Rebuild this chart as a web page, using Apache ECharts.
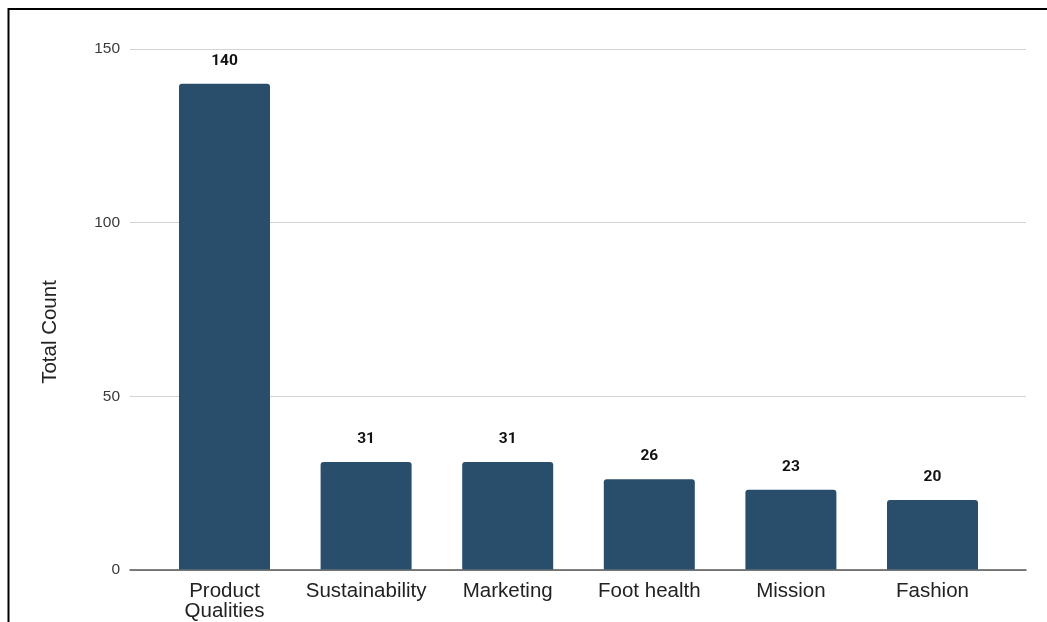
<!DOCTYPE html>
<html>
<head>
<meta charset="utf-8">
<script src="https://cdn.jsdelivr.net/npm/echarts@6/dist/echarts.min.js"></script>
<style>
  html, body { margin: 0; padding: 0; background: #fff; }
  #chart { width: 1047px; height: 622px; }
</style>
</head>
<body>
<div id="chart"></div>
<script>
// Theme categories and their total counts
const categories = ['Product\nQualities', 'Sustainability', 'Marketing', 'Foot health', 'Mission', 'Fashion'];
const counts = [140, 31, 31, 26, 23, 20];
const yTicks = { min: 0, max: 150, interval: 50 };

const chart = echarts.init(document.getElementById('chart'));

chart.setOption({
  animation: false,
  backgroundColor: '#ffffff',
  grid: [
    // wide grid: value gridlines and baseline span past the outer bars
    { left: 130, right: 21, top: 49, bottom: 52 },
    // inner grid: holds the bars
    { left: 153.7, right: 43.7, top: 49, bottom: 52 }
  ],
  xAxis: [
    {
      gridIndex: 0, type: 'value', min: 0, max: 1,
      axisLine: { show: true, lineStyle: { color: '#555', width: 1.5 } },
      axisTick: { show: false }, axisLabel: { show: false }, splitLine: { show: false }
    },
    {
      gridIndex: 1, type: 'category', data: categories,
      axisLine: { show: false }, axisTick: { show: false },
      axisLabel: {
        color: '#222', fontSize: 20.5, fontFamily: 'Liberation Sans, Arial, sans-serif',
        margin: 12, lineHeight: 20, interval: 0
      }
    }
  ],
  yAxis: [
    {
      gridIndex: 0, type: 'value', min: yTicks.min, max: yTicks.max, interval: yTicks.interval,
      axisLine: { show: false }, axisTick: { show: false },
      axisLabel: { color: '#3a3a3a', fontSize: 15.5, fontFamily: 'Liberation Sans, Arial, sans-serif', margin: 10 },
      splitLine: { lineStyle: { color: '#d3d3d3', width: 1 } }
    },
    {
      gridIndex: 1, type: 'value', min: yTicks.min, max: yTicks.max, interval: yTicks.interval,
      show: false, splitLine: { show: false }
    }
  ],
  graphic: [
    {
      type: 'text', x: 50, y: 332, rotation: Math.PI / 2,
      style: {
        text: 'Total Count', fill: '#222', fontSize: 20.5,
        fontFamily: 'Liberation Sans, Arial, sans-serif',
        align: 'center', verticalAlign: 'middle'
      }
    },
    {
      type: 'polyline', z: 100,
      shape: { points: [[8.5, 622], [8.5, 9], [1047, 9]] },
      style: { stroke: '#000', lineWidth: 2, fill: null }
    }
  ],
  series: [
    {
      type: 'bar', xAxisIndex: 1, yAxisIndex: 1,
      data: counts,
      barWidth: 91,
      itemStyle: { color: '#284e6b', borderRadius: [3, 3, 0, 0] },
      label: {
        show: true, position: 'top', distance: 15,
        color: '#111', fontSize: 15.5, fontWeight: 'bold',
        fontFamily: 'Roboto, Liberation Sans, Arial, sans-serif'
      }
    }
  ]
});
</script>
</body>
</html>
